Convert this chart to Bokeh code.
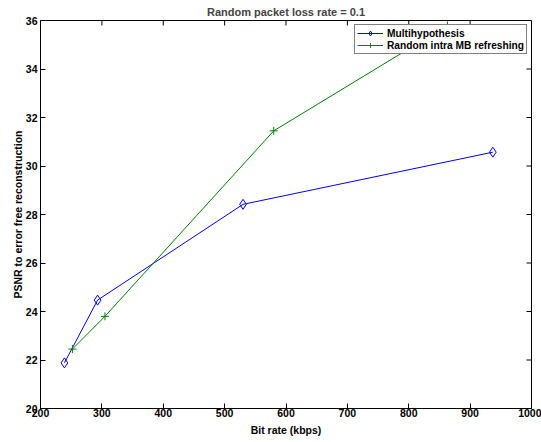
import math
from bokeh.plotting import figure
from bokeh.models import FixedTicker, Range1d
from bokeh.embed import file_html
from bokeh.resources import INLINE

# Data
bitrate_multihyp = [239, 293, 530, 937]
psnr_multihyp = [21.88, 24.47, 28.42, 30.57]
bitrate_intra = [252, 305, 580, 863]
psnr_intra = [22.45, 23.8, 31.45, 35.8]

x_ticks = [200, 300, 400, 500, 600, 700, 800, 900, 1000]
y_ticks = [20, 22, 24, 26, 28, 30, 32, 34, 36]

FONT = "Liberation Sans"
FS = "10.5px"

p = figure(frame_width=491, frame_height=388,
           x_range=Range1d(x_ticks[0], x_ticks[-1]),
           y_range=Range1d(y_ticks[0], y_ticks[-1]),
           output_backend="svg", toolbar_location=None,
           min_border_left=40, min_border_right=10,
           min_border_top=20, min_border_bottom=34,
           title="Random packet loss rate = 0.1")

p.title.align = "center"
p.title.vertical_align = "top"
p.title.text_font = FONT
p.title.text_font_size = "11px"
p.title.text_font_style = "bold"
p.title.text_line_height = 0.8
p.title.standoff = 2
p.title.offset = 0

p.grid.visible = False
p.outline_line_color = "black"
p.background_fill_color = "white"
p.border_fill_color = "white"


def style_axis(ax, ticks):
    ax.ticker = FixedTicker(ticks=ticks)
    ax.major_tick_in = 5
    ax.major_tick_out = 0
    ax.minor_tick_in = 0
    ax.minor_tick_out = 0
    ax.axis_line_color = "black"
    ax.major_tick_line_color = "black"
    ax.major_label_text_font = FONT
    ax.major_label_text_font_style = "bold"
    ax.major_label_text_color = "black"
    ax.major_label_text_font_size = FS
    ax.axis_label_text_font = FONT
    ax.axis_label_text_font_size = FS
    ax.axis_label_text_font_style = "bold"
    ax.axis_label_text_color = "black"


style_axis(p.xaxis[0], x_ticks)
style_axis(p.yaxis[0], y_ticks)
p.xaxis.axis_label = "Bit rate (kbps)"
p.yaxis.axis_label = "PSNR to error free reconstruction"
p.xaxis.major_label_standoff = 0
p.xaxis.axis_label_standoff = 4
p.yaxis.major_label_standoff = 3
p.yaxis.axis_label_standoff = -1

# inward ticks on the top and right edges (box on)
p.ray(x=x_ticks, y=[y_ticks[-1]] * len(x_ticks), length=5, length_units="screen",
      angle=-math.pi / 2, line_color="black", line_width=1)
p.ray(x=[x_ticks[-1]] * len(y_ticks), y=y_ticks, length=5, length_units="screen",
      angle=math.pi, line_color="black", line_width=1)

blue = "#0000ff"
green = "#008000"

p.line(bitrate_multihyp, psnr_multihyp, line_color=blue, line_width=1,
       legend_label="Multihypothesis")
p.scatter(bitrate_multihyp, psnr_multihyp, marker="diamond", size=10,
          line_color=blue, fill_color=None, line_width=1,
          legend_label="Multihypothesis")

p.line(bitrate_intra, psnr_intra, line_color=green, line_width=1,
       legend_label="Random intra MB refreshing")
p.scatter(bitrate_intra, psnr_intra, marker="cross", size=8,
          line_color=green, line_width=1,
          legend_label="Random intra MB refreshing")

lg = p.legend[0]
lg.location = "top_right"
lg.margin = 4
lg.padding = 2
lg.spacing = 0
lg.label_height = 12
lg.glyph_height = 12
lg.glyph_width = 26
lg.label_standoff = 4
lg.label_text_font = FONT
lg.label_text_font_size = "10.2px"
lg.label_text_font_style = "bold"
lg.label_text_color = "black"
lg.border_line_color = "black"
lg.border_line_width = 1
lg.background_fill_color = "white"
lg.background_fill_alpha = 1.0

open("out.html", "w").write(file_html(p, INLINE))
